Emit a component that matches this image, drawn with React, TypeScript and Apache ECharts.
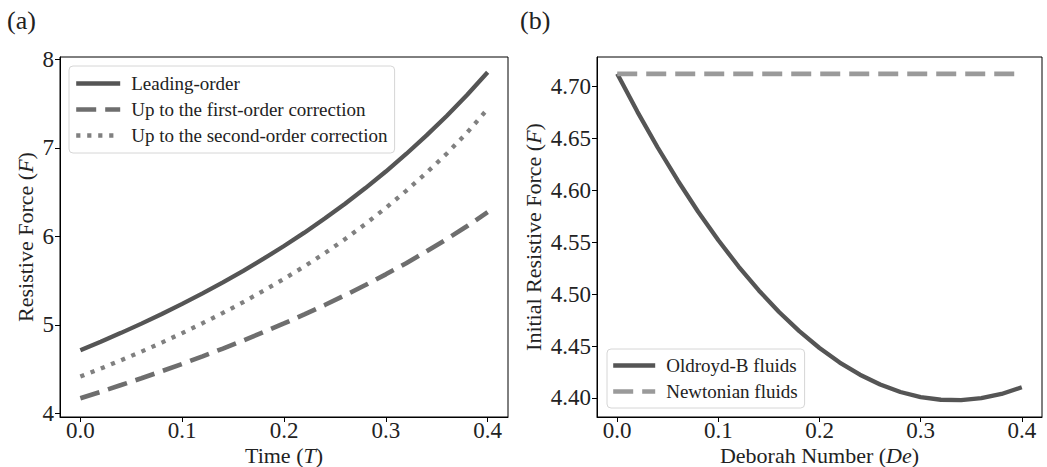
import React, { useEffect, useRef } from "react";
import * as echarts from "echarts";

// ---------- data ----------
const timeT = [0, 0.02, 0.04, 0.06, 0.08, 0.1, 0.12, 0.14, 0.16, 0.18, 0.2, 0.22, 0.24, 0.26, 0.28, 0.3, 0.32, 0.34, 0.36, 0.38, 0.4];
const leadingOrder = [4.712, 4.808, 4.909, 5.013, 5.122, 5.236, 5.355, 5.479, 5.61, 5.747, 5.89, 6.041, 6.2, 6.368, 6.545, 6.732, 6.93, 7.14, 7.363, 7.6, 7.854];
const firstOrder = [4.17, 4.243, 4.319, 4.396, 4.476, 4.558, 4.643, 4.731, 4.823, 4.917, 5.015, 5.117, 5.223, 5.334, 5.449, 5.57, 5.696, 5.83, 5.969, 6.116, 6.272];
const secondOrder = [4.415, 4.505, 4.6, 4.697, 4.799, 4.906, 5.018, 5.134, 5.257, 5.385, 5.519, 5.66, 5.809, 5.968, 6.14, 6.321, 6.514, 6.718, 6.936, 7.174, 7.438];

const deborah = [0, 0.02, 0.04, 0.06, 0.08, 0.1, 0.12, 0.14, 0.16, 0.18, 0.2, 0.22, 0.24, 0.26, 0.28, 0.3, 0.32, 0.34, 0.36, 0.38, 0.4];
const oldroydB = [4.712, 4.6754, 4.6411, 4.6091, 4.5793, 4.5518, 4.5265, 4.5035, 4.4828, 4.4643, 4.4481, 4.4341, 4.4224, 4.413, 4.4058, 4.4009, 4.3983, 4.3979, 4.3998, 4.4039, 4.4103];
const newtonian = [4.712, 4.712, 4.712, 4.712, 4.712, 4.712, 4.712, 4.712, 4.712, 4.712, 4.712, 4.712, 4.712, 4.712, 4.712, 4.712, 4.712, 4.712, 4.712, 4.712, 4.712];

const xTicks = [0, 0.1, 0.2, 0.3, 0.4];
const leftYTicks = [4, 5, 6, 7, 8];
const rightYTicks = [4.4, 4.45, 4.5, 4.55, 4.6, 4.65, 4.7];

const legendLeft = ["Leading-order", "Up to the first-order correction", "Up to the second-order correction"];
const legendRight = ["Oldroyd-B fluids", "Newtonian fluids"];

const FONT = '"Liberation Serif", "Times New Roman", serif';
const TXT = "#222222";

function pairs(xs: number[], ys: number[]) {
  return xs.map((x, i) => [x, ys[i]]);
}

function axisBase(ticks: number[], digits: number, margin: number) {
  return {
    type: "value" as const,
    axisLine: { show: true, onZero: false, lineStyle: { color: "#000", width: 1 } },
    axisTick: { show: true, inside: false, length: 5, customValues: ticks, lineStyle: { color: "#000", width: 1 } },
    axisLabel: {
      show: true,
      customValues: ticks,
      color: TXT,
      fontFamily: FONT,
      fontSize: 23,
      margin,
      formatter: (v: number) => v.toFixed(digits),
    },
    splitLine: { show: false },
    nameTextStyle: {
      color: TXT,
      fontFamily: FONT,
      fontSize: 22,
      rich: {
        n: { fontFamily: FONT, fontSize: 22, color: TXT },
        i: { fontFamily: FONT, fontSize: 22, color: TXT, fontStyle: "italic" },
      },
    },
    nameLocation: "middle" as const,
    nameMoveOverlap: false,
  };
}

export default function App() {
  const ref = useRef<HTMLDivElement>(null);

  useEffect(() => {
    document.body.style.margin = "0";
    if (!ref.current) return;
    const chart = echarts.init(ref.current, null, { renderer: "svg" });

    const legendCommon = {
      orient: "vertical" as const,
      itemHeight: 14,
      itemGap: 7,
      borderColor: "#d6d6d6",
      borderWidth: 1,
      borderRadius: 4,
      backgroundColor: "rgba(255,255,255,0.85)",
      itemStyle: { opacity: 0 },
      lineStyle: { width: 4.4 },
      textStyle: { fontFamily: FONT, fontSize: 19, color: TXT, padding: [0, 0, 0, 6] },
    };

    chart.setOption({
      animation: false,
      backgroundColor: "#ffffff",
      title: [
        { text: "(a)", left: 7, top: 7, padding: 0, textStyle: { fontFamily: FONT, fontSize: 26, fontWeight: "normal", color: TXT } },
        { text: "(b)", left: 520, top: 7, padding: 0, textStyle: { fontFamily: FONT, fontSize: 26, fontWeight: "normal", color: TXT } },
      ],
      grid: [
        { left: 60, top: 57, right: 539, bottom: 50, outerBoundsMode: "none", containLabel: false, show: true, borderColor: "#000", borderWidth: 1, backgroundColor: "transparent" },
        { left: 597, top: 57, right: 5, bottom: 50, outerBoundsMode: "none", containLabel: false, show: true, borderColor: "#000", borderWidth: 1, backgroundColor: "transparent" },
      ],
      xAxis: [
        { ...axisBase(xTicks, 1, 2), gridIndex: 0, min: -0.02, max: 0.42, name: "{n|Time (}{i|T}{n|)}", nameGap: 27 },
        { ...axisBase(xTicks, 1, 2), gridIndex: 1, min: -0.02, max: 0.42, name: "{n|Deborah Number (}{i|De}{n|)}", nameGap: 27 },
      ],
      yAxis: [
        { ...axisBase(leftYTicks, 0, 6), gridIndex: 0, min: 3.958, max: 8.026, name: "{n|Resistive Force (}{i|F}{n|)}", nameGap: 24 },
        { ...axisBase(rightYTicks, 2, 6), gridIndex: 1, min: 4.3817, max: 4.7282, name: "{n|Initial Resistive Force (}{i|F}{n|)}", nameGap: 53 },
      ],
      legend: [
        { ...legendCommon, data: legendLeft, left: 69, top: 66, itemWidth: 44, padding: [8, 7, 8, 5] },
        { ...legendCommon, data: legendRight, left: 607, top: 349, itemWidth: 42, padding: [7, 7, 7, 4] },
      ],
      series: [
        {
          type: "line", name: legendLeft[0], xAxisIndex: 0, yAxisIndex: 0, data: pairs(timeT, leadingOrder),
          symbol: "none", smooth: false, color: "#555555",
          lineStyle: { color: "#555555", width: 4.3, type: "solid" },
        },
        {
          type: "line", name: legendLeft[1], xAxisIndex: 0, yAxisIndex: 0, data: pairs(timeT, firstOrder),
          symbol: "none", smooth: false, color: "#6e6e6e",
          lineStyle: { color: "#6e6e6e", width: 4.6, type: [20, 9], cap: "butt" },
        },
        {
          type: "line", name: legendLeft[2], xAxisIndex: 0, yAxisIndex: 0, data: pairs(timeT, secondOrder),
          symbol: "none", smooth: false, color: "#808080",
          lineStyle: { color: "#808080", width: 4.3, type: [4.2, 6.8], cap: "butt" },
        },
        {
          type: "line", name: legendRight[0], xAxisIndex: 1, yAxisIndex: 1, data: pairs(deborah, oldroydB),
          symbol: "none", smooth: false, color: "#555555",
          lineStyle: { color: "#555555", width: 4.3, type: "solid" },
        },
        {
          type: "line", name: legendRight[1], xAxisIndex: 1, yAxisIndex: 1, data: pairs(deborah, newtonian),
          symbol: "none", smooth: false, color: "#9a9a9a",
          lineStyle: { color: "#9a9a9a", width: 4.6, type: [20, 9], cap: "butt" },
        },
      ],
    });

    return () => {
      chart.dispose();
    };
  }, []);

  return <div ref={ref} style={{ width: 1047, height: 467 }} />;
}
